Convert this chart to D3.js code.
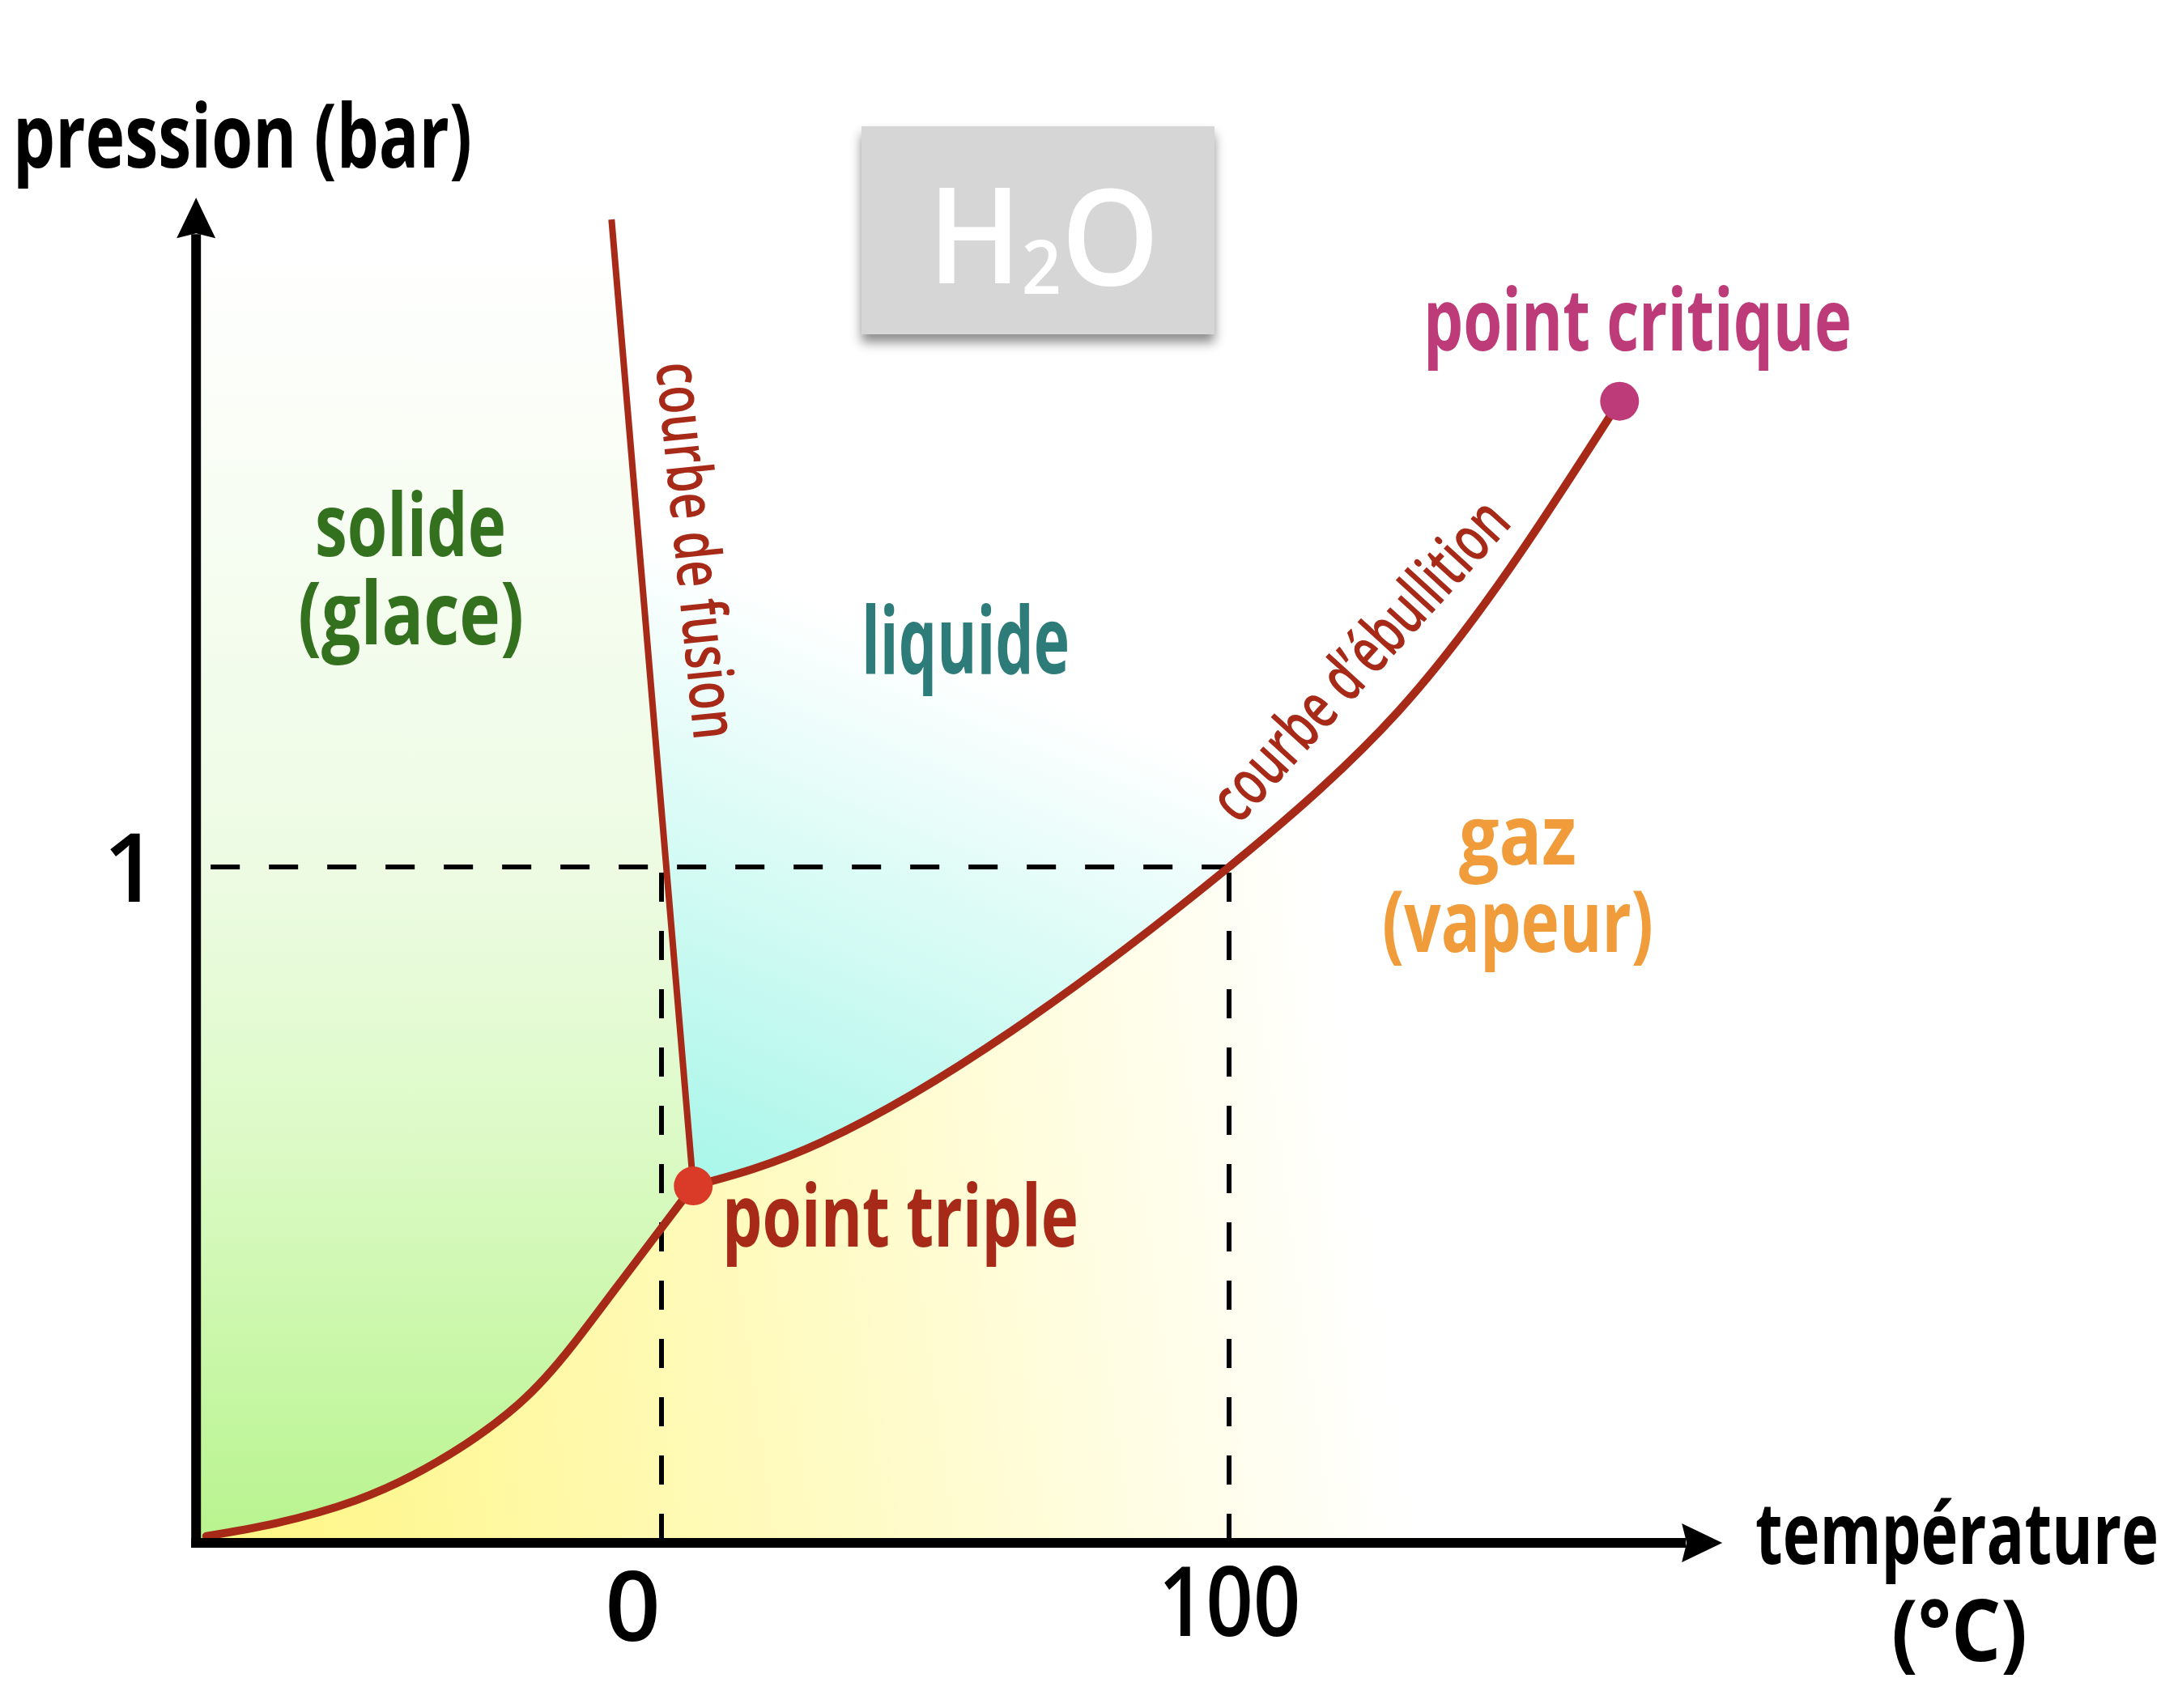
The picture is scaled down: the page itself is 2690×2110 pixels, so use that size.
<!DOCTYPE html>
<html><head><meta charset="utf-8">
<script src="https://cdn.jsdelivr.net/npm/d3@7"></script>
<style>html,body{margin:0;padding:0;background:#fff;} svg{display:block;}</style>
</head><body>
<svg id="chart" width="2690" height="2110"></svg>
<script>
// ---------- data (schematic H2O phase diagram, °C / bar) ----------
const tempTicks = [0, 100];
const tempTickLabels = ["0", "100"];
const pressureTicks = [1];
const pressureTickLabels = ["1"];
const tempAxisRange = [-82, 186.9];
const pressureAxisRange = [0, 1.99];

const sublimationT = [-80.2, -68.0, -53.8, -39.5, -25.2, -15.7, -8.1, 5.6];
const sublimationP = [0.010, 0.029, 0.063, 0.120, 0.205, 0.292, 0.376, 0.528];

const boilingT = [5.6, 28.5, 61.8, 100, 129.8, 151.6, 168.8];
const boilingP = [0.528, 0.594, 0.758, 1.0, 1.230, 1.468, 1.689];

const fusionT = [5.6, -8.8];
const fusionP = [0.528, 1.958];

const triplePoint = [5.6, 0.528];
const criticalPoint = [168.8, 1.689];

const axisTitles = ["pression (bar)", "température", "(°C)"];
const phaseLabels = ["solide", "(glace)", "liquide", "gaz", "(vapeur)"];
const curveLabels = ["courbe de fusion", "courbe d\u2019ébullition"];
const pointLabels = ["point triple", "point critique"];

// ---------- drawing ----------
const FONT = "'Open Sans','Noto Sans',sans-serif";
const svg = d3.select("#chart");
svg.append("rect").attr("width", 2690).attr("height", 2110).attr("fill", "#fff");

const x = d3.scaleLinear().domain([0, 100]).range([817, 1518]);
const y = d3.scaleLinear().domain([0, 1]).range([1906, 1071]);

const defs = svg.append("defs");
function grad(id, x1, y1, x2, y2, stops) {
  const g = defs.append("linearGradient").attr("id", id).attr("gradientUnits", "userSpaceOnUse")
    .attr("x1", x1).attr("y1", y1).attr("x2", x2).attr("y2", y2);
  stops.forEach(s => g.append("stop").attr("offset", s[0]).attr("stop-color", s[1]));
}
grad("gSolid", 0, 1906, 0, 300, [[0, "#b8f48e"], [0.31, "#dcfac6"], [0.52, "#edfbe3"], [1, "#ffffff"]]);
grad("gLiquid", 860, 1460, 1130, 790, [[0, "#a8f6e9"], [1, "#ffffff"]]);
grad("gGas", 260, 1900, 1720, 1700, [[0, "#fff682"], [1, "#ffffff"]]);
const f = defs.append("filter").attr("id", "shadow").attr("x", "-10%").attr("y", "-10%").attr("width", "120%").attr("height", "130%");
f.append("feDropShadow").attr("dx", 0).attr("dy", 10).attr("stdDeviation", 7)
  .attr("flood-color", "#000").attr("flood-opacity", 0.45);

const sub = d3.zip(sublimationT, sublimationP);
const boil = d3.zip(boilingT, boilingP);
const fus = d3.zip(fusionT, fusionP);
const lineGen = d3.line().x(d => x(d[0])).y(d => y(d[1])).curve(d3.curveNatural);
const straight = d3.line().x(d => x(d[0])).y(d => y(d[1]));
const cont = s => s.replace(/^M/, "L");
const fusTop = fus[fus.length - 1];

// region fills
const solidPath = `M${x(tempAxisRange[0])},${y(0)}L${x(tempAxisRange[0])},${y(fusTop[1])}` +
  cont(straight(fus.slice().reverse())) + cont(lineGen(sub.slice().reverse())) + "Z";
const liquidPath = `M${x(fusTop[0])},${y(fusTop[1])}L${x(criticalPoint[0])},${y(fusTop[1])}` +
  cont(lineGen(boil.slice().reverse())) + cont(straight(fus)) + "Z";
const gasPath = `M${x(tempAxisRange[0])},${y(0)}` + cont(lineGen(sub)) + cont(lineGen(boil)) +
  `L${x(criticalPoint[0])},${y(0)}Z`;
svg.append("path").attr("d", solidPath).attr("fill", "url(#gSolid)");
svg.append("path").attr("d", liquidPath).attr("fill", "url(#gLiquid)");
svg.append("path").attr("d", gasPath).attr("fill", "url(#gGas)");

// dashed guides
const dash = svg.append("g").attr("stroke", "#000").attr("stroke-width", 6).attr("stroke-dasharray", "36 36").attr("fill", "none");
dash.append("line").attr("x1", x(tempAxisRange[0]) + 18).attr("x2", x(100)).attr("y1", y(1)).attr("y2", y(1));
tempTicks.forEach(t => dash.append("line").attr("x1", x(t)).attr("x2", x(t)).attr("y1", y(1) + 7).attr("y2", y(0) - 6));

// curves
const RED = "#a62a17";
svg.append("path").attr("d", lineGen(sub)).attr("fill", "none").attr("stroke", RED).attr("stroke-width", 10).attr("stroke-linecap", "round");
svg.append("path").attr("d", lineGen(boil)).attr("fill", "none").attr("stroke", RED).attr("stroke-width", 10).attr("stroke-linecap", "round");
svg.append("path").attr("d", straight(fus)).attr("fill", "none").attr("stroke", RED).attr("stroke-width", 8);

// axes lines + arrows
const ax = svg.append("g");
const x0 = x(tempAxisRange[0]), y0 = y(0), xEnd = x(tempAxisRange[1]), yEnd = y(pressureAxisRange[1]);
ax.append("line").attr("x1", x0).attr("x2", x0).attr("y1", y0 + 6).attr("y2", yEnd + 45).attr("stroke", "#000").attr("stroke-width", 12);
ax.append("line").attr("x1", x0 - 6).attr("x2", xEnd - 45).attr("y1", y0).attr("y2", y0).attr("stroke", "#000").attr("stroke-width", 12);
ax.append("path").attr("d", `M${x0},${yEnd}L${x0 - 24},${yEnd + 50}L${x0},${yEnd + 44}L${x0 + 24},${yEnd + 50}Z`).attr("fill", "#000");
ax.append("path").attr("d", `M${xEnd},${y0}L${xEnd - 50},${y0 - 24}L${xEnd - 44},${y0}L${xEnd - 50},${y0 + 24}Z`).attr("fill", "#000");

// tick labels through d3 axes
const xAxis = d3.axisBottom(x).tickValues(tempTicks).tickSize(0).tickFormat((d, i) => tempTickLabels[i]);
const gx = svg.append("g").attr("transform", `translate(0,${y0})`).call(xAxis);
gx.select(".domain").remove();
gx.selectAll("text").attr("y", 0).attr("dy", null).attr("font-family", FONT).attr("font-weight", 600).attr("font-size", 120).attr("fill", "#000")
  .each(function (d) {
    const t = d3.select(this);
    if (d === 0) t.attr("y", 121).attr("x", -36);
    else t.attr("y", 115).attr("textLength", 176).attr("lengthAdjust", "spacingAndGlyphs");
  });
const yAxis = d3.axisLeft(y).tickValues(pressureTicks).tickSize(0).tickFormat((d, i) => pressureTickLabels[i]);
const gy = svg.append("g").attr("transform", `translate(${x0},0)`).call(yAxis);
gy.select(".domain").remove();
gy.selectAll("text").attr("x", -81).attr("dy", "0.36em").attr("text-anchor", "middle").attr("font-family", FONT)
  .attr("font-weight", 600).attr("font-size", 118).attr("fill", "#000");

// points
svg.append("circle").attr("cx", x(triplePoint[0])).attr("cy", y(triplePoint[1])).attr("r", 24).attr("fill", "#d93b28");
svg.append("circle").attr("cx", x(criticalPoint[0])).attr("cy", y(criticalPoint[1])).attr("r", 24).attr("fill", "#bc3b78");

// H2O box (single text element with subscript tspan, squeezed to the reference width)
svg.append("rect").attr("x", 1064).attr("y", 156).attr("width", 436).attr("height", 257).attr("fill", "#d6d6d6").attr("filter", "url(#shadow)");
const h2o = svg.append("text").attr("fill", "#fff").attr("font-family", FONT).attr("font-weight", 600)
  .attr("font-size", 165).attr("x", 0).attr("y", 0);
h2o.append("tspan").text("H");
h2o.append("tspan").attr("font-size", 92).attr("dy", 13).text("2");
h2o.append("tspan").attr("dy", -11).text("O");
const h2oNat = h2o.node().getComputedTextLength();
h2o.attr("transform", `translate(1146,350) scale(${286 / h2oNat},1)`);

// labels: natural text squeezed horizontally to the reference width
function label(txt, o) {
  const t = svg.append("text").attr("font-family", FONT).attr("font-weight", o.weight || 700)
    .attr("font-size", o.size).attr("fill", o.color).attr("x", 0).attr("y", 0).text(txt);
  const nat = t.node().getComputedTextLength();
  const sx = o.width ? o.width / nat : 1;
  t.attr("transform", `translate(${o.x},${o.y}) rotate(${o.rotate || 0}) scale(${sx},1)`);
  return t;
}
label(axisTitles[0], {x: 16, y: 207, size: 110, width: 567, color: "#000"});
label(axisTitles[1], {x: 2168, y: 1932, size: 106, width: 498, color: "#000"});
label(axisTitles[2], {x: 2336, y: 2052, size: 106, width: 168, color: "#000"});

const GREEN = "#33711f", TEAL = "#2e7c7a", ORANGE = "#f09c3a", PINK = "#bc3b78";
label(phaseLabels[0], {x: 389, y: 687, size: 108, width: 236, color: GREEN});
label(phaseLabels[1], {x: 368, y: 796, size: 108, width: 279, color: GREEN});
label(phaseLabels[2], {x: 1064, y: 832, size: 115, width: 257, color: TEAL});
label(phaseLabels[3], {x: 1802, y: 1068, size: 102, width: 145, color: ORANGE});
label(phaseLabels[4], {x: 1707, y: 1176, size: 106, width: 335, color: ORANGE});

label(pointLabels[0], {x: 892, y: 1540, size: 105, width: 440, color: RED});
label(pointLabels[1], {x: 1758, y: 433, size: 105, width: 529, color: PINK});

label(curveLabels[0], {x: 810, y: 450, rotate: 84.2, size: 78, width: 468, color: RED, weight: 600});
label(curveLabels[1], {x: 1530, y: 1020, rotate: -47.7, size: 80, width: 504, color: RED, weight: 600});
</script>
</body></html>
